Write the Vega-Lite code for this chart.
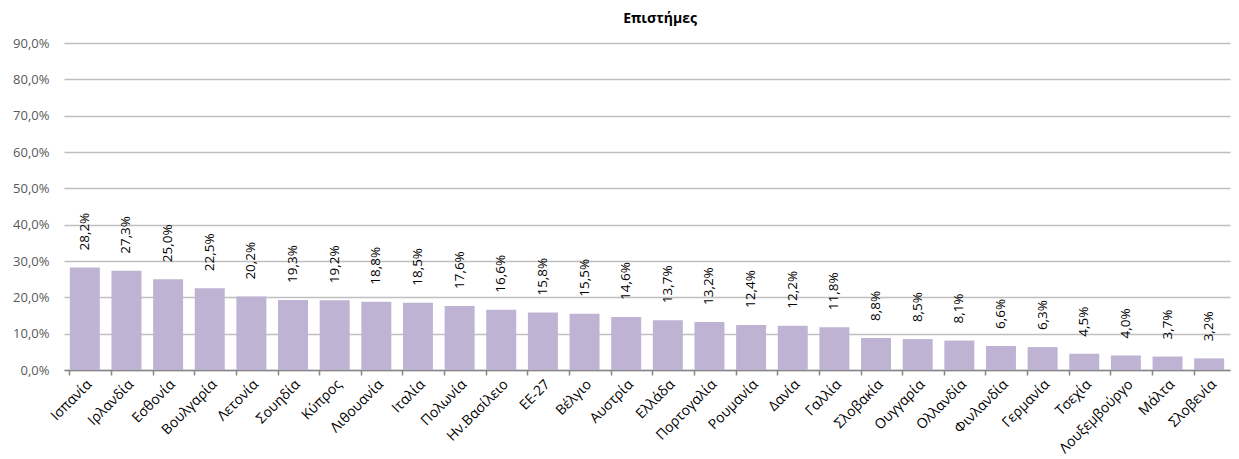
{
  "$schema": "https://vega.github.io/schema/vega-lite/v6.json",
  "autosize": {"type": "none"},
  "width": 1166,
  "height": 327,
  "padding": {"left": 64, "top": 43, "right": 9, "bottom": 89},
  "background": "white",
  "config": {
    "locale": {"number": {"decimal": ",", "thousands": ".", "grouping": [3], "currency": ["", " €"]}},
    "view": {"stroke": null},
    "font": "Open Sans"
  },
  "title": {"text": "Επιστήμες", "fontSize": 14, "fontWeight": "bold", "font": "Open Sans", "color": "#000000", "anchor": "middle", "dx": 13, "offset": 11},
  "data": {"values": [
    {"country": "Ισπανία", "value": 0.282},
    {"country": "Ιρλανδία", "value": 0.273},
    {"country": "Εσθονία", "value": 0.250},
    {"country": "Βουλγαρία", "value": 0.225},
    {"country": "Λετονία", "value": 0.202},
    {"country": "Σουηδία", "value": 0.193},
    {"country": "Κύπρος", "value": 0.192},
    {"country": "Λιθουανία", "value": 0.188},
    {"country": "Ιταλία", "value": 0.185},
    {"country": "Πολωνία", "value": 0.176},
    {"country": "Ην.Βασίλειο", "value": 0.166},
    {"country": "ΕΕ-27", "value": 0.158},
    {"country": "Βέλγιο", "value": 0.155},
    {"country": "Αυστρία", "value": 0.146},
    {"country": "Ελλάδα", "value": 0.137},
    {"country": "Πορτογαλία", "value": 0.132},
    {"country": "Ρουμανία", "value": 0.124},
    {"country": "Δανία", "value": 0.122},
    {"country": "Γαλλία", "value": 0.118},
    {"country": "Σλοβακία", "value": 0.088},
    {"country": "Ουγγαρία", "value": 0.085},
    {"country": "Ολλανδία", "value": 0.081},
    {"country": "Φινλανδία", "value": 0.066},
    {"country": "Γερμανία", "value": 0.063},
    {"country": "Τσεχία", "value": 0.045},
    {"country": "Λουξεμβούργο", "value": 0.040},
    {"country": "Μάλτα", "value": 0.037},
    {"country": "Σλοβενία", "value": 0.032}
  ]},
  "encoding": {
    "x": {"field": "country", "type": "nominal", "sort": null,
      "scale": {"paddingInner": 0.28, "paddingOuter": 0.14},
      "axis": {"title": null, "labelAngle": -45, "labelAlign": "right", "labelBaseline": "top", "labelFontSize": 14, "labelColor": "#000000", "labelPadding": 2, "labelOverlap": false,
        "domainColor": "#868686", "domainWidth": 1.5, "tickColor": "#868686", "tickWidth": 1.5, "tickSize": 5, "bandPosition": 0}},
    "y": {"field": "value", "type": "quantitative",
      "scale": {"domain": [0, 0.9]},
      "axis": {"title": null, "format": ".1%", "values": [0,0.1,0.2,0.3,0.4,0.5,0.6,0.7,0.8,0.9], "labelOverlap": false, "labelFontSize": 13, "labelColor": "#595959", "labelPadding": 15, "domain": false, "ticks": false, "grid": true, "gridColor": "#BFBFBF", "gridWidth": 1.5}}
  },
  "layer": [
    {"mark": {"type": "bar", "color": "#BFB3D3"}},
    {"mark": {"type": "text", "angle": -90, "align": "left", "baseline": "middle", "dx": 17, "fontSize": 13.5, "color": "#000000"},
      "encoding": {"text": {"field": "value", "type": "quantitative", "format": ".1%"}}}
  ]
}
